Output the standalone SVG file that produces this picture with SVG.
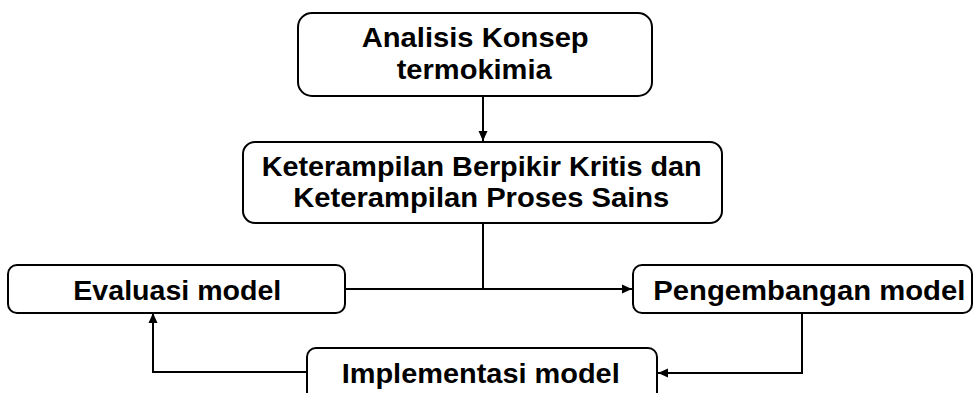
<svg xmlns="http://www.w3.org/2000/svg" width="974" height="393" viewBox="0 0 974 393">
<style>
.box{fill:#fff;stroke:#000;stroke-width:2}
.t{font-family:"Liberation Sans",Arial,sans-serif;font-weight:bold;font-size:27px;fill:#000}
.c{fill:none;stroke:#000;stroke-width:2}
</style>
<defs>
<marker id="ah" viewBox="0 0 10 10" refX="10" refY="5" markerWidth="10" markerHeight="10" markerUnits="userSpaceOnUse" orient="auto">
<path d="M0,0.5 L10,5 L0,9.5 Z" fill="#000"/>
</marker>
</defs>
<rect width="974" height="393" fill="#fff"/>
<g id="connectors">
<line class="c" x1="483" y1="97" x2="483" y2="141" marker-end="url(#ah)"/>
<polyline class="c" points="483,223 483,289"/>
<line class="c" x1="345" y1="289" x2="632" y2="289" marker-end="url(#ah)"/>
<polyline class="c" points="802,313 802,373 658,373" marker-end="url(#ah)"/>
<polyline class="c" points="307,372 153,372 153,313" marker-end="url(#ah)"/>
</g>
<g id="analisis">
<rect class="box" x="298" y="13" width="354" height="83" rx="14"/>
<text class="t" x="361.7" y="47" textLength="227" lengthAdjust="spacingAndGlyphs">Analisis Konsep</text>
<text class="t" x="396.7" y="79" textLength="155" lengthAdjust="spacingAndGlyphs">termokimia</text>
</g>
<g id="keterampilan">
<rect class="box" x="243" y="142" width="479" height="81" rx="12"/>
<text class="t" x="261.7" y="176" textLength="440" lengthAdjust="spacingAndGlyphs">Keterampilan Berpikir Kritis dan</text>
<text class="t" x="293.3" y="207" textLength="376" lengthAdjust="spacingAndGlyphs">Keterampilan Proses Sains</text>
</g>
<g id="evaluasi">
<rect class="box" x="8" y="265" width="337" height="48" rx="9"/>
<text class="t" x="73.3" y="300" textLength="208" lengthAdjust="spacingAndGlyphs">Evaluasi model</text>
</g>
<g id="pengembangan">
<rect class="box" x="633" y="265" width="339" height="48" rx="9"/>
<text class="t" x="653.3" y="300" textLength="312" lengthAdjust="spacingAndGlyphs">Pengembangan model</text>
</g>
<g id="implementasi">
<rect class="box" x="307" y="348" width="350" height="60" rx="9"/>
<text class="t" x="341.7" y="383" textLength="278" lengthAdjust="spacingAndGlyphs">Implementasi model</text>
</g>
</svg>
